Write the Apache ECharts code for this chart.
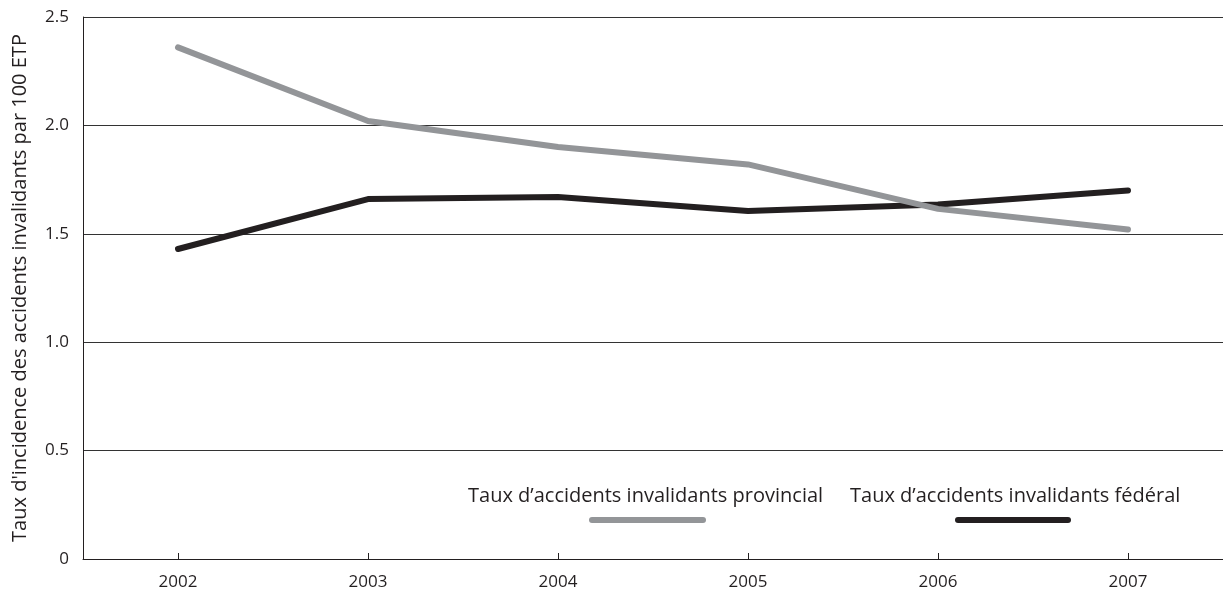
<!DOCTYPE html>
<html>
<head>
<meta charset="utf-8">
<script src="https://cdn.jsdelivr.net/npm/echarts@6/dist/echarts.min.js"></script>
<style>
  html, body { margin: 0; padding: 0; background: #ffffff; }
  #chart { width: 1223px; height: 592px; }
</style>
</head>
<body>
<div id="chart"></div>
<script>
// Disabling-injury incidence rates per 100 FTE, 2002–2007
const years = ['2002', '2003', '2004', '2005', '2006', '2007'];
const provincial = [2.36, 2.02, 1.90, 1.82, 1.615, 1.52];
const federal = [1.43, 1.66, 1.67, 1.605, 1.635, 1.70];
const yTicks = [0, 0.5, 1.0, 1.5, 2.0, 2.5];

const seriesNames = ['Taux d’accidents invalidants provincial', 'Taux d’accidents invalidants fédéral'];
const GREY = '#939598';
const DARK = '#231f20';
const FONT = '"Open Sans", "Noto Sans", sans-serif';

const chart = echarts.init(document.getElementById('chart'), null, { renderer: 'canvas' });

// Legend entries: label above a thick sample stroke
function legendItem(label, color, textX, lineX1, lineX2) {
  return [
    {
      type: 'text',
      x: textX,
      y: 496,
      style: {
        text: label, fill: DARK, font: '20px ' + FONT,
        textAlign: 'left', textVerticalAlign: 'middle', verticalAlign: 'middle'
      }
    },
    {
      type: 'line',
      shape: { x1: lineX1, y1: 520, x2: lineX2, y2: 520 },
      style: { stroke: color, lineWidth: 6, lineCap: 'round' }
    }
  ];
}

chart.setOption({
  animation: false,
  backgroundColor: '#ffffff',
  grid: { left: 83, right: 0, top: 17, bottom: 33, containLabel: false, outerBoundsMode: 'none' },
  xAxis: {
    type: 'category',
    data: years,
    boundaryGap: true,
    axisLine: { show: true, lineStyle: { color: DARK, width: 1 } },
    axisTick: { show: true, inside: true, alignWithLabel: true, length: 6, lineStyle: { color: DARK } },
    axisLabel: { color: DARK, fontSize: 17, fontFamily: FONT, margin: 15 },
    splitLine: { show: false }
  },
  yAxis: {
    type: 'value',
    min: 0,
    max: 2.5,
    interval: 0.5,
    name: "Taux d'incidence des accidents invalidants par 100 ETP",
    nameLocation: 'middle',
    nameGap: 53,
    nameRotate: 90,
    nameTextStyle: { color: DARK, fontSize: 20, fontFamily: FONT },
    axisLine: { show: true, lineStyle: { color: DARK, width: 1 } },
    axisTick: { show: false },
    axisLabel: {
      color: DARK, fontSize: 17, fontFamily: FONT, margin: 14,
      formatter: v => {
        const t = yTicks.find(x => Math.abs(x - v) < 1e-9);
        return t === 0 ? '0' : t.toFixed(1);
      }
    },
    splitLine: { show: true, lineStyle: { color: '#333', width: 1 } }
  },
  series: [
    {
      name: seriesNames[0],
      type: 'line',
      data: provincial,
      symbol: 'none',
      lineStyle: { color: GREY, width: 6, cap: 'round', join: 'round' },
      z: 3
    },
    {
      name: seriesNames[1],
      type: 'line',
      data: federal,
      symbol: 'none',
      lineStyle: { color: DARK, width: 6, cap: 'round', join: 'round' },
      z: 2
    }
  ],
  graphic: [
    ...legendItem(seriesNames[0], GREY, 468, 592, 703),
    ...legendItem(seriesNames[1], DARK, 850, 958, 1068)
  ]
});
</script>
</body>
</html>
